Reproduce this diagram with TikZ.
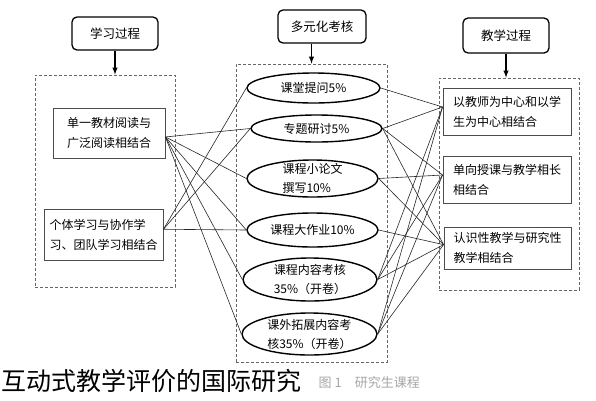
\documentclass[tikz,border=0pt]{standalone}
\usepackage{fontspec}
\setmainfont{Noto Sans CJK SC}
\usetikzlibrary{arrows,shapes.geometric}
\tikzset{arrowout/.style={->,>=latex,line width=1.4pt},head/.style={rectangle,rounded corners=5pt,draw,line width=1.3pt,minimum width=86pt,minimum height=33pt,font=\fontsize{12.5}{14}\selectfont},panel/.style={rectangle,draw=black!60,dash pattern=on 3pt off 2pt,line width=0.8pt},item/.style={rectangle,draw=black!70,line width=0.9pt,align=left,inner sep=0pt,font=\fontsize{12}{20}\selectfont},oval/.style={ellipse,draw,line width=1.4pt,inner sep=0pt},otext/.style={align=left,inner sep=0pt,font=\fontsize{12}{19}\selectfont},link/.style={-,black!85,line width=0.6pt}}

\begin{document}
\begin{tikzpicture}[x=1pt,y=-1pt]
\useasboundingbox (0,0) rectangle (596,400);

%panels
\node (pl) at (105,181)[panel,minimum width=140pt,minimum height=212pt]{};
\node (pm) at (311.5,213)[panel,minimum width=151pt,minimum height=298pt]{};
\node (pr) at (509,184)[panel,minimum width=140pt,minimum height=212pt]{};

%headers
\node (hl) at (115,33.5)[head]{学习过程};
\node (hm) at (322,26.5)[head,minimum width=88pt]{多元化考核};
\node (hr) at (506,35.5)[head,minimum height=35pt]{教学过程};
\draw[arrowout] (hl.south) -- (hl.south |- pl.north);
\draw[arrowout] (pm.north |- hm.south) -- (pm.north);
\draw[arrowout] (hr.south) -- (hr.south |- pr.north);

%learning
\node (lb1) at (109,133)[item,minimum width=112pt,minimum height=50pt]{单一教材阅读与\\广泛阅读相结合};
\node (lb2) at (103.5,234.5)[item,minimum width=119pt,minimum height=51pt]{个体学习与协作学\\习、团队学习相结合};

%assessment
\node (e1) at (313.5,88)[oval,minimum width=133pt,minimum height=30pt]{};
\node (e2) at (316.5,128.5)[oval,minimum width=131pt,minimum height=27pt]{};
\node (e3) at (312.5,178.5)[oval,minimum width=131pt,minimum height=37pt]{};
\node (e4) at (312.5,230)[oval,minimum width=131pt,minimum height=34pt]{};
\node (e5) at (310,279.5)[oval,minimum width=134pt,minimum height=43pt]{};
\node (e6) at (309.5,334)[oval,minimum width=135pt,minimum height=42pt]{};
\node (t1) at (e1)[otext]{课堂提问5\%};
\node (t2) at (e2)[otext]{专题研讨5\%};
\node (t3) at (e3)[otext]{课程小论文\\撰写10\%};
\node (t4) at (e4)[otext]{课程大作业10\%};
\node (t5) at (e5)[otext]{课程内容考核\\35\%（开卷）};
\node (t6) at (e6)[otext]{课外拓展内容考\\核35\%（开卷）};

%teaching
\node (rb1) at (507,111.5)[item,minimum width=128pt,minimum height=47pt]{以教师为中心和以学\\生为中心相结合};
\node (rb2) at (507,179.5)[item,minimum width=128pt,minimum height=47pt]{单向授课与教学相长\\相结合};
\node (rb3) at (507.5,248)[item,minimum width=127pt,minimum height=42pt]{认识性教学与研究性\\教学相结合};

%links left
\draw[link] (lb1.-4) -- (e2.west);
\draw[link] (lb1.-4) -- (e3.west);
\draw[link] (lb1.-4) -- (e4.west);
\draw[link] (lb1.-4) -- (e5.west);
\draw[link] (lb1.-4) -- (e6.west);
\draw[link] (lb2.5) -- (e1.west);
\draw[link] (lb2.5) -- (e2.west);
\draw[link] (lb2.5) -- (e4.west);

%links right
\draw[link] (e1.east) -- (rb1.176);
\draw[link] (e2.east) -- (rb1.176);
\draw[link] (e2.east) -- (rb2.176);
\draw[link] (e2.east) -- (rb3.177);
\draw[link] (e3.east) -- (rb2.176);
\draw[link] (e3.east) -- (rb3.177);
\draw[link] (e4.east) -- (rb3.177);
\draw[link] (e5.east) -- (rb1.176);
\draw[link] (e5.east) -- (rb2.176);
\draw[link] (e5.east) -- (rb3.177);
\draw[link] (e6.east) -- (rb1.176);
\draw[link] (e6.east) -- (rb2.176);
\draw[link] (e6.east) -- (rb3.177);

%caption
\node (cap) at (1,381)[anchor=west,inner sep=0pt,font=\fontsize{25}{28}\selectfont]{互动式教学评价的国际研究};
\node (fig) at (420,383)[anchor=east,inner sep=0pt,text=black!35,font=\fontsize{13}{14}\selectfont]{图 1　研究生课程};
\end{tikzpicture}
\end{document}
